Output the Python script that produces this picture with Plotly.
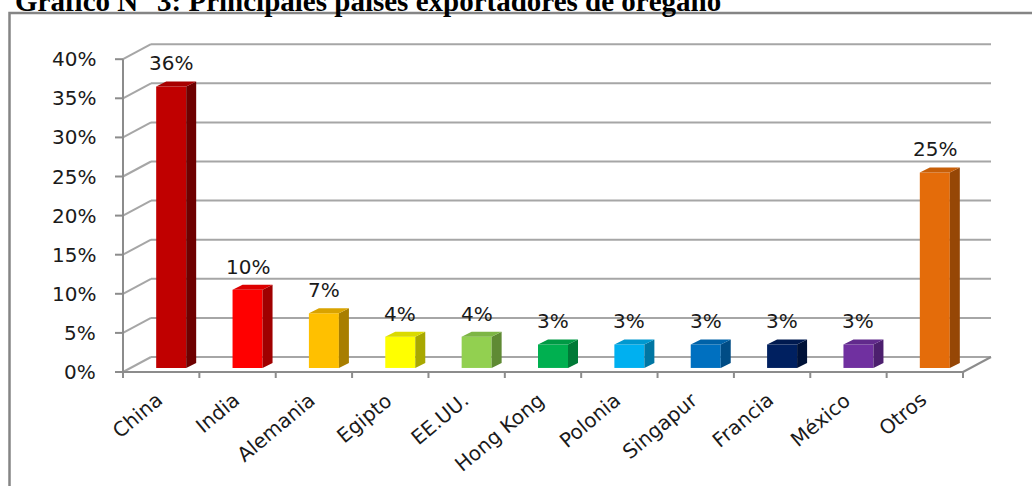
import plotly.graph_objects as go

# ---- data -------------------------------------------------------------
categories = ["China", "India", "Alemania", "Egipto", "EE.UU.", "Hong Kong",
              "Polonia", "Singapur", "Francia", "México", "Otros"]
shares = [36, 10, 7, 4, 4, 3, 3, 3, 3, 3, 25]          # % of world exports
y_ticks = [0, 5, 10, 15, 20, 25, 30, 35, 40]

front_colors = ["#C00000", "#FF0000", "#FFC000", "#FFFF00", "#92D050", "#00B050",
                "#00B0F0", "#0070C0", "#002060", "#7030A0", "#E46C0A"]
side_colors = ["#6E0000", "#A00000", "#A87E00", "#A8A800", "#5F8A34", "#007A37",
               "#0076A3", "#004C85", "#001238", "#4C1F6E", "#964706"]
top_colors = ["#A80000", "#DD0000", "#D9A300", "#DADA00", "#7DB545", "#009A45",
              "#0098CF", "#0062A8", "#001A50", "#612A8C", "#C85F08"]

title_text = "Gráfico N° 3: Principales países exportadores de orégano"

# ---- geometry of the pseudo-3D frame (pixels) ------------------------
W, H = 1032, 486
X0_PX, CAT_PX = 123.0, 76.364      # front-left corner, width of one category
Y0_PX, PCT_PX = 372.0, 7.82        # front floor line, pixels per percent
DEPTH_DX_PX, DEPTH_DY_PX = 28.0, 15.0


def xr(px):
    return -0.5 + (px - X0_PX) / CAT_PX


def yr(py):
    return (Y0_PX - py) / PCT_PX


ddx, ddy = DEPTH_DX_PX / CAT_PX, DEPTH_DY_PX / PCT_PX   # wall depth in data units
plane = 0.27                                             # depth of the bar row
sx, sy = plane * ddx, plane * ddy
bar_off = 10.0 / CAT_PX
bar_w = 30.0 / CAT_PX
bdx, bdy = 10.0 / CAT_PX, 5.0 / PCT_PX                   # bar depth

n = len(categories)
idx = list(range(n))
x_left, x_right = -0.5, n - 0.5

grid_col = "#A6A6A6"
axis_col = "#8C8C8C"
text_col = "#1A1A1A"
FONT = "DejaVu Sans"
FS = 20

shapes = []


def line(x0, y0, x1, y1, color, width=2, layer="below"):
    shapes.append(dict(type="line", xref="x", yref="y", x0=x0, y0=y0, x1=x1, y1=y1,
                       line=dict(color=color, width=width), layer=layer))


# walls: side-wall diagonals, back-wall gridlines and left tick marks
for t in y_ticks:
    line(x_left, t, x_left + ddx, t + ddy, grid_col)
    line(x_left + ddx, t + ddy, x_right + ddx, t + ddy, grid_col)
    line(xr(115), t, x_left, t, axis_col)

# front vertical axis, floor front edge and right floor edge
line(x_left, 0, x_left, y_ticks[-1], axis_col)
line(x_left, 0, x_right, 0, axis_col)
line(x_right, 0, x_right + ddx, ddy, axis_col)

# category boundary tick marks
for k in range(n + 1):
    line(k - 0.5, 0, k - 0.5, yr(378), axis_col)


def poly(pts, color):
    path = "M " + " L ".join(f"{px:.5f},{py:.5f}" for px, py in pts) + " Z"
    shapes.append(dict(type="path", xref="x", yref="y", path=path,
                       fillcolor=color, line=dict(width=0), layer="above"))


# side and top faces of each bar
for i, v, sc, tc in zip(idx, shares, side_colors, top_colors):
    xl = i + bar_off - bar_w / 2
    xrt = i + bar_off + bar_w / 2
    b, top = sy, sy + v
    poly([(xrt, b), (xrt + bdx, b + bdy), (xrt + bdx, top + bdy), (xrt, top)], sc)
    poly([(xl, top), (xl + bdx, top + bdy), (xrt + bdx, top + bdy), (xrt, top)], tc)

# border around the chart
shapes.append(dict(type="rect", xref="paper", yref="paper",
                   x0=9.5 / W, y0=-0.05, x1=1.05, y1=1 - 13 / H,
                   line=dict(color="#858585", width=2.5), fillcolor="rgba(0,0,0,0)",
                   layer="below"))

fig = go.Figure()
fig.add_trace(go.Bar(
    x=[i + bar_off for i in idx], y=shares, base=[sy] * n, width=bar_w,
    marker=dict(color=front_colors, line=dict(width=0)),
    hoverinfo="skip", showlegend=False,
))

annotations = []
# y tick labels
for t in y_ticks:
    annotations.append(dict(xref="x", yref="y", x=xr(98), y=t, text=f"{t}%",
                            xanchor="right", yanchor="middle", showarrow=False,
                            font=dict(family=FONT, size=FS, color=text_col)))
# category labels
for i, c in zip(idx, categories):
    annotations.append(dict(xref="x", yref="y", x=i + 9 / CAT_PX, y=yr(385), text=c,
                            xanchor="right", yanchor="top", textangle=-40,
                            showarrow=False,
                            font=dict(family=FONT, size=FS, color=text_col)))
# value labels
for i, v in zip(idx, shares):
    annotations.append(dict(xref="x", yref="y", x=i + bar_off, y=sy + v, text=f"{v}%",
                            xanchor="center", yanchor="middle", yshift=23,
                            showarrow=False,
                            font=dict(family=FONT, size=FS, color=text_col)))
# title, partly above the page edge
annotations.append(dict(xref="paper", yref="paper", x=13 / W, y=1 - 19 / H,
                        text=f"<b>{title_text}</b>", xanchor="left", yanchor="bottom",
                        showarrow=False,
                        font=dict(family="Liberation Serif", size=29, color="#000000")))

fig.update_layout(
    width=W, height=H,
    margin=dict(l=0, r=0, t=0, b=0),
    paper_bgcolor="white", plot_bgcolor="white",
    xaxis=dict(range=[xr(0), xr(W)], visible=False, fixedrange=True),
    yaxis=dict(range=[yr(H), yr(0)], visible=False, fixedrange=True),
    shapes=shapes, annotations=annotations, showlegend=False,
)

fig.write_html("out.html")
